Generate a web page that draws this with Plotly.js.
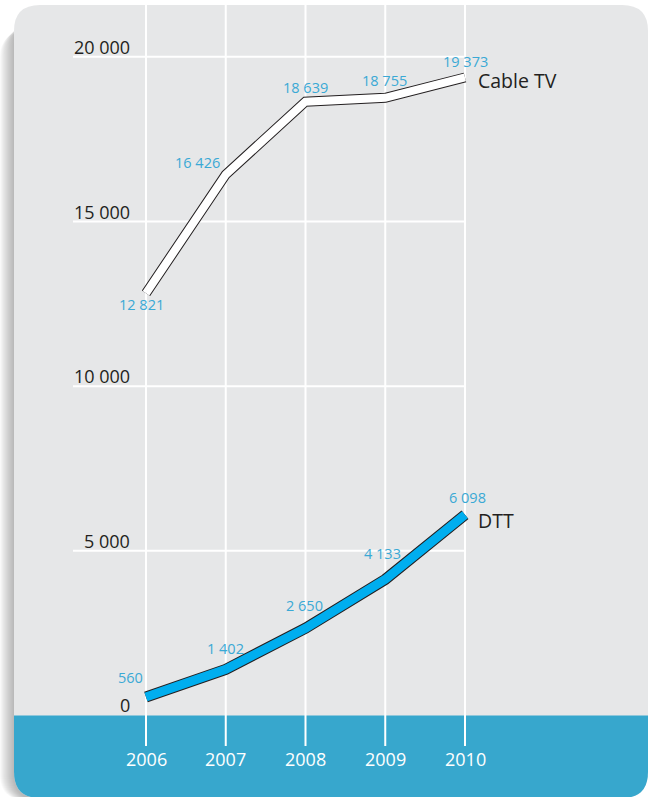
<!DOCTYPE html>
<html><head>
<meta charset="utf-8">
<script src="https://cdn.plot.ly/plotly-3.0.1.min.js"></script>
<style>html,body{margin:0;padding:0;background:#fff}</style>
</head>
<body>
<div id="chart" style="width:653px;height:797px"></div>
<script>
// ---- data ----
const years = [2006, 2007, 2008, 2009, 2010];
const cableTV = [12821, 16426, 18639, 18755, 19373];
const dtt = [560, 1402, 2650, 4133, 6098];
const yTicks = [0, 5000, 10000, 15000, 20000];
const yTickText = ['0', '5 000', '10 000', '15 000', '20 000'];
const seriesNames = ['Cable TV', 'DTT'];

// ---- helpers / styling ----
const W = 653, H = 797;
const px = v => v / W;
const py = v => 1 - v / H;
const fmt = v => String(v).replace(/\B(?=(\d{3})+(?!\d))/g, ' ');
const FONT = '"Open Sans", "Noto Sans", sans-serif';
const LABEL_BLUE = '#3aa9d5';
const GRAY = '#e6e7e8';
const BAND = '#37a7cd';

function roundRect(x0, y0, x1, y1, r, corners) {
  const rx = r / W, ry = r / H;
  const X0 = px(x0), X1 = px(x1), Y0 = py(y0), Y1 = py(y1);
  const [tl, tr, br, bl] = corners;
  let p = `M ${X0 + (tl ? rx : 0)} ${Y0} L ${X1 - (tr ? rx : 0)} ${Y0} `;
  p += tr ? `Q ${X1} ${Y0} ${X1} ${Y0 - ry} ` : '';
  p += `L ${X1} ${Y1 + (br ? ry : 0)} `;
  p += br ? `Q ${X1} ${Y1} ${X1 - rx} ${Y1} ` : '';
  p += `L ${X0 + (bl ? rx : 0)} ${Y1} `;
  p += bl ? `Q ${X0} ${Y1} ${X0} ${Y1 + ry} ` : '';
  p += `L ${X0} ${Y0 - (tl ? ry : 0)} `;
  p += tl ? `Q ${X0} ${Y0} ${X0 + rx} ${Y0} ` : '';
  return p + 'Z';
}

const shapes = [];
// soft shadow on the left
for (let o = 14; o >= 1; o--) {
  shapes.push({type: 'path', xref: 'paper', yref: 'paper', layer: 'below',
    path: roundRect(14 - o, 18 + o, 60, 800, 26, [true, false, false, true]),
    fillcolor: 'rgba(110,110,110,0.045)', line: {width: 0}});
}
// card
shapes.push({type: 'path', xref: 'paper', yref: 'paper', layer: 'below',
  path: roundRect(14, 5, 648, 798, 26, [true, true, true, true]),
  fillcolor: GRAY, line: {width: 0}});
// blue band
shapes.push({type: 'path', xref: 'paper', yref: 'paper', layer: 'below',
  path: roundRect(14, 715.5, 648, 798, 26, [false, false, true, true]),
  fillcolor: BAND, line: {width: 0}});
// vertical gridlines
years.forEach(y => shapes.push({type: 'line', layer: 'below', xref: 'x', yref: 'paper',
  x0: y, x1: y, y0: py(5), y1: py(746), line: {color: '#ffffff', width: 2}}));
// horizontal gridlines
yTicks.filter(v => v > 0).forEach(v => shapes.push({type: 'line', layer: 'below',
  xref: 'paper', yref: 'y', x0: px(73), x1: px(466), y0: v, y1: v,
  line: {color: '#ffffff', width: 2}}));

const annotations = [];
// y tick labels
yTicks.forEach((v, i) => annotations.push({xref: 'paper', yref: 'y', x: px(132), y: v,
  xanchor: 'right', yanchor: 'middle', yshift: 10, showarrow: false, text: yTickText[i],
  font: {family: FONT, size: 18, color: '#231f20'}}));
// year labels
years.forEach(y => annotations.push({xref: 'x', yref: 'paper', x: y, y: py(759),
  xanchor: 'center', yanchor: 'middle', showarrow: false, text: String(y),
  font: {family: FONT, size: 18, color: '#ffffff'}}));
// value labels
const cableOff = [[-5, -11], [-28, 12], [0, 14], [-1, 17], [0, 16]];
const dttOff = [[-16, 20], [0, 21], [-1, 23], [-3, 26], [2, 17]];
cableTV.forEach((v, i) => annotations.push({xref: 'x', yref: 'y', x: years[i], y: v,
  xshift: cableOff[i][0], yshift: cableOff[i][1], showarrow: false, text: fmt(v),
  font: {family: FONT, size: 14.5, color: LABEL_BLUE}}));
dtt.forEach((v, i) => annotations.push({xref: 'x', yref: 'y', x: years[i], y: v,
  xshift: dttOff[i][0], yshift: dttOff[i][1], showarrow: false, text: fmt(v),
  font: {family: FONT, size: 14.5, color: LABEL_BLUE}}));
// series names
[[cableTV, -3], [dtt, -6]].forEach(([s, ys], i) => annotations.push({xref: 'x', yref: 'y',
  x: years[years.length - 1], y: s[s.length - 1], xanchor: 'left', xshift: 11, yshift: ys,
  showarrow: false, text: seriesNames[i], font: {family: FONT, size: 19.5, color: '#231f20'}}));

const traces = [
  {x: years, y: cableTV, mode: 'lines', line: {color: '#231f20', width: 10}, hoverinfo: 'skip'},
  {x: years, y: cableTV, mode: 'lines', line: {color: '#ffffff', width: 8}, hoverinfo: 'skip'},
  {x: years, y: dtt, mode: 'lines', line: {color: '#231f20', width: 11}, hoverinfo: 'skip'},
  {x: years, y: dtt, mode: 'lines', line: {color: '#00aeef', width: 9}, hoverinfo: 'skip'}
];

const layout = {
  width: W, height: H, margin: {l: 0, r: 0, t: 0, b: 0},
  paper_bgcolor: '#ffffff', plot_bgcolor: 'rgba(0,0,0,0)', showlegend: false,
  xaxis: {range: [2004.1693, 2012.3574], visible: false, fixedrange: true},
  yaxis: {range: [-2475, 21726], visible: false, fixedrange: true},
  shapes, annotations
};
Plotly.newPlot('chart', traces, layout, {staticPlot: true, displayModeBar: false});
</script>
</body></html>
